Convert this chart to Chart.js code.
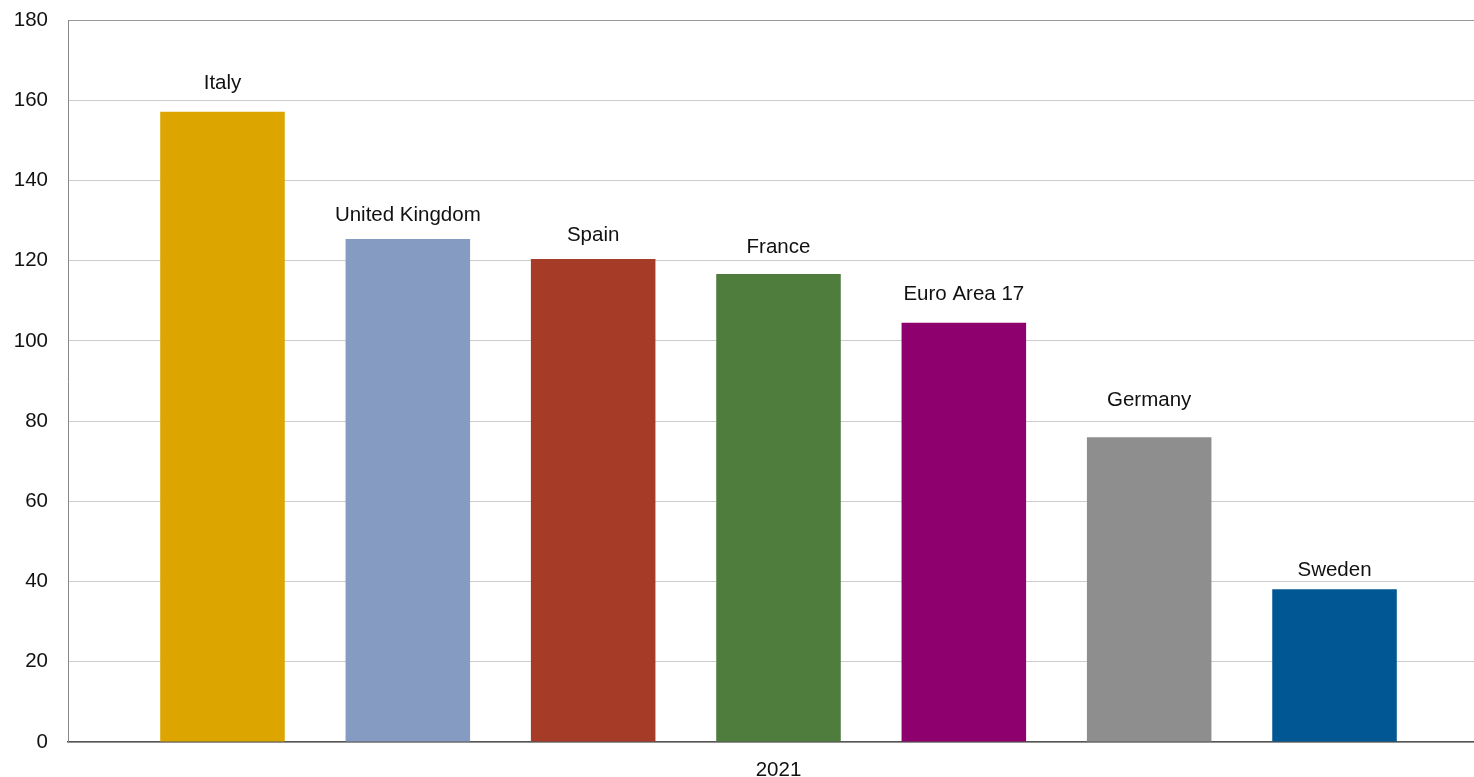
<!DOCTYPE html>
<html>
<head>
<meta charset="utf-8">
<script src="https://cdn.jsdelivr.net/npm/chart.js@4"></script>
<style>
  html, body { margin: 0; padding: 0; background: #fff; overflow: hidden; }
  #wrap { width: 1489px; height: 777px; }
</style>
</head>
<body>
<div id="wrap"><canvas id="debtChart"></canvas></div>
<script>
// data
const categories = ['2021'];
const countries = ['Italy', 'United Kingdom', 'Spain', 'France', 'Euro Area 17', 'Germany', 'Sweden'];
const values = [157.1, 125.4, 120.4, 116.7, 104.5, 76.0, 38.1];
const yTicks = [0, 20, 40, 60, 80, 100, 120, 140, 160, 180];

const colors = ['#DDA500', '#869BC1', '#A63C28', '#4F7D3E', '#8E006E', '#8E8E8E', '#005794'];
const labelLift = [29, 24, 24, 27, 28, 37, 19];

const FONT = '"Liberation Sans", Arial, Helvetica, sans-serif';

// draws the country name above each bar
const barNames = {
  id: 'barNames',
  afterDatasetsDraw(chart) {
    const ctx = chart.ctx;
    ctx.save();
    ctx.font = '20.5px ' + FONT;
    ctx.fillStyle = '#111';
    ctx.textAlign = 'center';
    ctx.textBaseline = 'middle';
    chart.data.datasets.forEach((ds, i) => {
      const bar = chart.getDatasetMeta(i).data[0];
      if (!bar) return;
      ctx.fillText(ds.label, bar.x, bar.y - labelLift[i]);
    });
    ctx.restore();
  }
};

const ctx = document.getElementById('debtChart').getContext('2d');
new Chart(ctx, {
  type: 'bar',
  data: {
    labels: categories,
    datasets: countries.map((name, i) => ({
      label: name,
      data: [values[i]],
      backgroundColor: colors[i],
      borderWidth: 0,
      categoryPercentage: 0.913,
      barPercentage: 0.672
    }))
  },
  options: {
    responsive: true,
    maintainAspectRatio: false,
    animation: false,
    layout: { padding: 0 },
    plugins: {
      legend: { display: false },
      tooltip: { enabled: false }
    },
    scales: {
      x: {
        grid: { display: false, drawTicks: false },
        border: { display: true, color: '#555', width: 1.5 },
        ticks: { color: '#111', font: { family: FONT, size: 20.5 }, padding: 16 },
        afterFit: s => { s.height = 35; }
      },
      y: {
        min: 0,
        max: 180,
        afterBuildTicks: s => { s.ticks = yTicks.map(v => ({ value: v })); },
        grid: {
          drawTicks: false,
          color: c => (c.tick && c.tick.value === 180 ? '#999' : '#ccc'),
          lineWidth: 1
        },
        border: { display: true, color: '#888', width: 1 },
        ticks: { color: '#111', font: { family: FONT, size: 20.5 }, padding: 20 },
        afterFit: s => { s.width = 68; s.paddingTop = 20; s.paddingBottom = 0; }
      }
    }
  },
  plugins: [barNames]
});
</script>
</body>
</html>
